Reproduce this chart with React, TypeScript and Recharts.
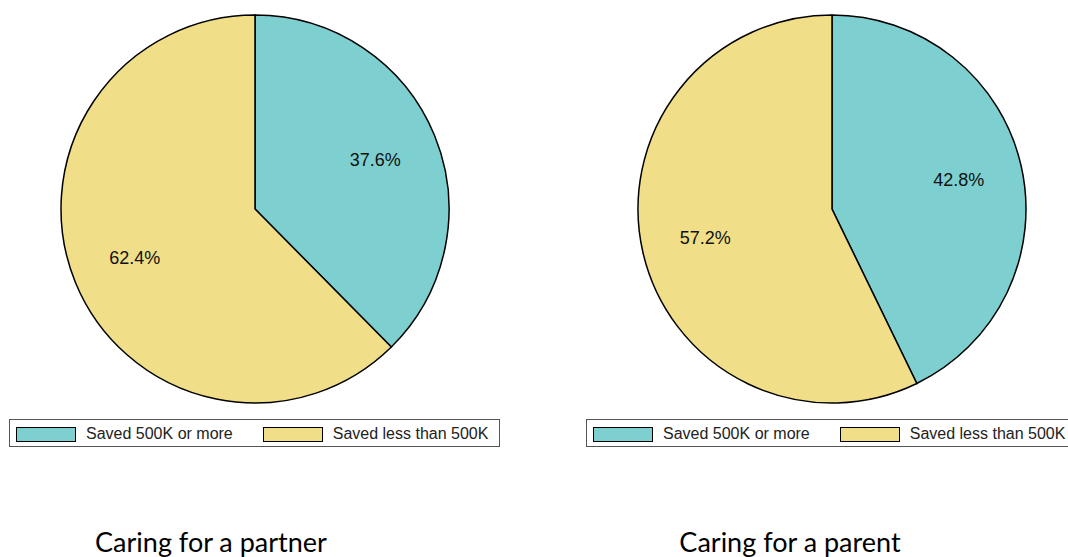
import { PieChart, Pie, Cell, Legend } from 'recharts';

const categories = ['Saved 500K or more', 'Saved less than 500K'];
const partnerShares = [37.6, 62.4];
const parentShares = [42.8, 57.2];
const colors = ['#7ED0D0', '#F0DF88'];

const titles = ['Caring for a partner', 'Caring for a parent'];

const toRows = (values: number[]) =>
  categories.map((name, i) => ({ name, value: values[i] }));

const RAD = Math.PI / 180;

function renderLabel(props: any) {
  const { cx, cy, midAngle, percent } = props;
  const r = 130;
  const x = cx + r * Math.cos(-midAngle * RAD);
  const y = cy + r * Math.sin(-midAngle * RAD);
  return (
    <text
      x={x}
      y={y}
      textAnchor="middle"
      dominantBaseline="central"
      fill="#111"
      fontSize={18}
      fontFamily="'Liberation Sans', Arial, sans-serif"
    >
      {`${(percent * 100).toFixed(1)}%`}
    </text>
  );
}

function LegendBox({ payload }: any) {
  return (
    <div
      style={{
        width: 489,
        height: 26,
        border: '1px solid #555',
        display: 'flex',
        alignItems: 'center',
        fontFamily: "'Liberation Sans', Arial, sans-serif",
        fontSize: 16,
        color: '#222',
        boxSizing: 'content-box',
      }}
    >
      {(payload || []).map((p: any, i: number) => (
        <div
          key={i}
          style={{ display: 'flex', alignItems: 'center', marginLeft: i === 0 ? 6 : 30, paddingTop: 2 }}
        >
          <span
            style={{
              display: 'inline-block',
              width: 58,
              height: 13,
              background: p.color,
              border: '1px solid #000',
              marginRight: 10,
            }}
          />
          <span>{p.value}</span>
        </div>
      ))}
    </div>
  );
}

function SavingsPie({ values, left, title, titleX }: { values: number[]; left: number; title: string; titleX: number }) {
  return (
    <>
      <div style={{ position: 'absolute', left, top: 0 }}>
        <PieChart width={510} height={460} margin={{ top: 0, right: 0, bottom: 0, left: 0 }}>
          <Pie
            data={toRows(values)}
            dataKey="value"
            nameKey="name"
            cx={255}
            cy={209}
            outerRadius={194}
            startAngle={90}
            endAngle={-270}
            stroke="#000"
            strokeWidth={1.5}
            label={renderLabel}
            labelLine={false}
            isAnimationActive={false}
          >
            {values.map((_, i) => (
              <Cell key={i} fill={colors[i]} />
            ))}
          </Pie>
          <Legend
            content={<LegendBox />}
            wrapperStyle={{ position: 'absolute', left: 9, top: 419, width: 491 }}
          />
        </PieChart>
      </div>
      <div
        style={{
          position: 'absolute',
          left: titleX - 200,
          width: 400,
          top: 525,
          textAlign: 'center',
          fontFamily: "Lato, 'Open Sans', sans-serif",
          fontSize: 27,
          color: '#000',
        }}
      >
        {title}
      </div>
    </>
  );
}

export default function App() {
  return (
    <div
      style={{
        position: 'absolute',
        left: 0,
        top: 0,
        width: 1068,
        height: 557,
        overflow: 'hidden',
        background: '#fff',
      }}
    >
      <SavingsPie values={partnerShares} left={0} title={titles[0]} titleX={211} />
      <SavingsPie values={parentShares} left={577} title={titles[1]} titleX={790} />
    </div>
  );
}
